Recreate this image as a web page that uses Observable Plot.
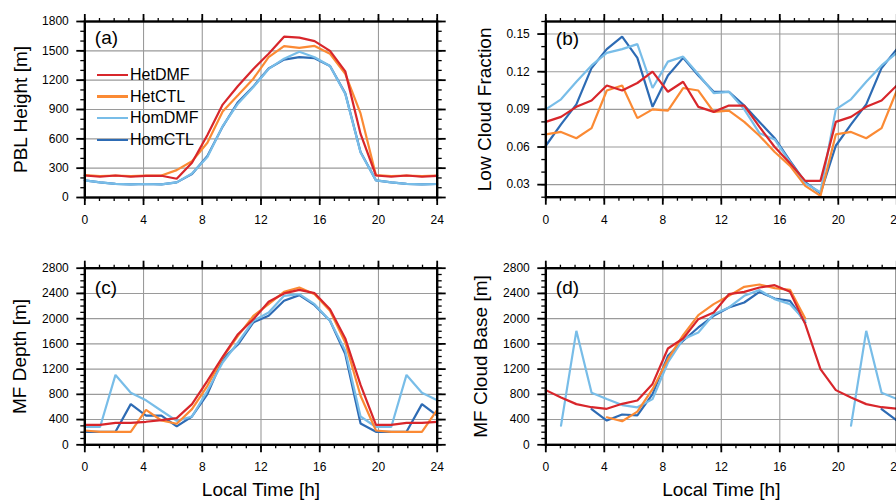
<!DOCTYPE html>
<html>
<head>
<meta charset="utf-8">
<script src="https://cdn.jsdelivr.net/npm/d3@7"></script>
<script src="https://cdn.jsdelivr.net/npm/@observablehq/plot@0.6"></script>
<style>
  html, body { margin: 0; padding: 0; background: #fff; }
  #fig { position: relative; width: 896px; height: 501px; overflow: hidden; background: #fff;
         font-family: "Liberation Sans", Arial, Helvetica, sans-serif; }
  #fig > div.panel { position: absolute; }
  #fig > div.panel svg { max-width: none !important; display: block; }
  #legend { position: absolute; left: 97px; top: 64px; font-size: 16px; color: #000; }
  #legend .row { position: relative; height: 21.7px; line-height: 21.7px; white-space: nowrap; }
  #legend .sw { display: inline-block; width: 31px; height: 2.5px; vertical-align: middle; margin-right: 2px; position: relative; top: -1px; }
</style>
</head>
<body>
<div id="fig"></div>
<script>
// ---------- data ----------
const seriesNames = ["HetDMF", "HetCTL", "HomDMF", "HomCTL"];
const seriesColors = ["#d8262b", "#fb8a34", "#78bde8", "#2d6bb4"];

// local time of each sample [h]
const hours = [0, 1.04, 2.09, 3.13, 4.17, 5.22, 6.26, 7.30, 8.35, 9.39, 10.43, 11.48,
               12.52, 13.57, 14.61, 15.65, 16.70, 17.74, 18.78, 19.83, 20.87, 21.91, 22.96, 24];

// (a) PBL height [m]
const pblHetDMF = [225, 212, 225, 212, 222, 222, 192, 355, 640, 950, 1140, 1315, 1470, 1645, 1635, 1600, 1500, 1290, 650, 225, 212, 225, 212, 222];
const pblHetCTL = [228, 220, 225, 218, 225, 225, 280, 370, 560, 880, 1045, 1215, 1435, 1548, 1530, 1550, 1470, 1265, 860, 228, 220, 225, 218, 225];
const pblHomDMF = [175, 155, 140, 135, 138, 135, 155, 245, 415, 730, 960, 1130, 1315, 1420, 1490, 1435, 1345, 1060, 460, 175, 155, 140, 135, 138];
const pblHomCTL = [175, 155, 140, 135, 138, 135, 155, 240, 425, 725, 975, 1135, 1320, 1410, 1435, 1425, 1345, 1065, 465, 175, 155, 140, 135, 138];

// (b) low cloud fraction
const lcfHetDMF = [0.080, 0.084, 0.092, 0.097, 0.109, 0.105, 0.111, 0.120, 0.104, 0.112, 0.092, 0.088, 0.093, 0.093, 0.076, 0.060, 0.047, 0.033, 0.033, 0.080, 0.084, 0.092, 0.097, 0.109];
const lcfHetCTL = [0.070, 0.072, 0.067, 0.075, 0.105, 0.109, 0.083, 0.090, 0.089, 0.107, 0.105, 0.088, 0.089, 0.080, 0.069, 0.056, 0.045, 0.029, 0.021, 0.070, 0.072, 0.067, 0.075, 0.105];
const lcfHomDMF = [0.090, 0.098, 0.112, 0.125, 0.135, 0.138, 0.142, 0.107, 0.128, 0.132, 0.118, 0.103, 0.104, 0.090, 0.071, 0.066, 0.048, 0.031, 0.024, 0.090, 0.098, 0.112, 0.125, 0.135];
const lcfHomCTL = [0.061, 0.078, 0.094, 0.123, 0.138, 0.148, 0.131, 0.092, 0.117, 0.131, 0.117, 0.104, 0.104, 0.093, 0.080, 0.067, 0.049, 0.032, 0.023, 0.061, 0.078, 0.094, 0.123, 0.138];

// (c) MF depth [m]
const mfdHetDMF = [317, 317, 349, 349, 365, 390, 423, 645, 1015, 1395, 1754, 1990, 2267, 2400, 2457, 2404, 2150, 1686, 950, 317, 317, 349, 349, 365];
const mfdHetCTL = [227, 206, 206, 206, 555, 385, 333, 565, 935, 1384, 1728, 2045, 2230, 2425, 2494, 2388, 2124, 1622, 777, 227, 206, 206, 206, 555];
const mfdHomDMF = [282, 282, 1108, 826, 705, 540, 380, 449, 856, 1305, 1622, 1966, 2098, 2362, 2388, 2230, 1966, 1490, 449, 282, 282, 1108, 826, 705];
const mfdHomCTL = [206, 206, 206, 645, 462, 462, 293, 449, 803, 1358, 1590, 1940, 2045, 2283, 2373, 2214, 1966, 1437, 338, 206, 206, 206, 645, 462];

// (d) MF cloud base [m]  (null = no value)
const mfbHetDMF = [867, 750, 645, 596, 571, 650, 702, 965, 1527, 1686, 1992, 2098, 2388, 2425, 2494, 2531, 2425, 1913, 1200, 867, 750, 645, 596, 571];
const mfbHetCTL = [null, null, null, null, 436, 374, 525, 882, 1358, 1738, 2055, 2230, 2362, 2505, 2541, 2484, 2457, 2003, null, null, null, null, null, 436];
const mfbHomDMF = [null, 304, 1807, 826, 727, 630, 594, 724, 1305, 1675, 1781, 2071, 2177, 2362, 2452, 2309, 2230, 1966, null, null, 304, 1807, 826, 727];
const mfbHomCTL = [null, null, null, 565, 385, 480, 465, 803, 1411, 1649, 1860, 2045, 2177, 2256, 2425, 2320, 2283, 1939, null, null, null, null, 565, 385];

// tick labels
const xTicks = [0, 4, 8, 12, 16, 20, 24];
const pblTicks = [0, 300, 600, 900, 1200, 1500, 1800];
const lcfTicks = [0.03, 0.06, 0.09, 0.12, 0.15];
const mfTicks = [0, 400, 800, 1200, 1600, 2000, 2400, 2800];

// ---------- helpers ----------
function toRows(byName) {
  // draw order bottom -> top: HomCTL, HomDMF, HetCTL, HetDMF
  const rows = [];
  for (const name of ["HomCTL", "HomDMF", "HetCTL", "HetDMF"]) {
    byName[name].forEach((v, i) => rows.push({t: hours[i], v: v == null ? NaN : v, s: name}));
  }
  return rows;
}

const FONT = '"Liberation Sans", Arial, Helvetica, sans-serif';

function panel(o) {
  const blank = () => "";
  const ax = {stroke: "black", strokeWidth: 1.8, label: null, fontSize: 12};
  const marks = [
    Plot.gridX(xTicks, {stroke: "#9a9a9a", strokeOpacity: 1, strokeWidth: 1.1}),
    Plot.gridY(o.yTicks, {stroke: "#9a9a9a", strokeOpacity: 1, strokeWidth: 1.1}),
    Plot.line(o.rows, {x: "t", y: "v", z: "s", stroke: "s", strokeWidth: 2.2, strokeLinejoin: "miter"}),
    Plot.frame({stroke: "black", strokeWidth: 2.4}),
    // x ticks
    Plot.axisX(xTicks, {...ax, anchor: "bottom", tickSize: 8, tickPadding: 10, tickFormat: d => String(d)}),
    Plot.axisX(o.xMinor, {...ax, anchor: "bottom", tickSize: 4, tickFormat: blank, strokeWidth: 1.3}),
    Plot.axisX(xTicks, {...ax, anchor: "top", tickSize: 8, tickFormat: blank}),
    Plot.axisX(o.xMinor, {...ax, anchor: "top", tickSize: 4, tickFormat: blank, strokeWidth: 1.3}),
    // y ticks
    Plot.axisY(o.yTicks, {...ax, anchor: "left", tickSize: 8, tickPadding: 8, tickFormat: o.yFormat}),
    Plot.axisY(o.yMinor, {...ax, anchor: "left", tickSize: 4, tickFormat: blank, strokeWidth: 1.3}),
    Plot.axisY(o.yTicks, {...ax, anchor: "right", tickSize: 8, tickFormat: blank}),
    Plot.axisY(o.yMinor, {...ax, anchor: "right", tickSize: 4, tickFormat: blank, strokeWidth: 1.3}),
    // panel tag
    Plot.text([o.tag], {frameAnchor: "top-left", dx: 10, dy: o.tagDy, textAnchor: "start", lineAnchor: "middle", fontSize: 19, fill: "black"}),
    // y title
    Plot.text([o.ylabel], {frameAnchor: "left", dx: o.ylabelDx, rotate: -90, textAnchor: "middle", lineAnchor: "middle", fontSize: 19, fill: "black"})
  ];
  if (o.xlabel) {
    marks.push(Plot.text([o.xlabel], {frameAnchor: "bottom", dy: 45.5, textAnchor: "middle", lineAnchor: "middle", fontSize: 19, fill: "black"}));
  }
  const svg = Plot.plot({
    width: o.width, height: o.height,
    marginLeft: o.ml, marginRight: o.mr, marginTop: o.mt, marginBottom: o.mb,
    style: {fontFamily: FONT, fontSize: "12px", background: "transparent", overflow: "visible", maxWidth: "none"},
    x: {domain: [0, 24], axis: null},
    y: {domain: o.yDomain, axis: null},
    color: {domain: seriesNames, range: seriesColors},
    marks
  });
  svg.style.maxWidth = "none";
  svg.style.width = o.width + "px";
  svg.style.height = o.height + "px";
  const wrap = document.createElement("div");
  wrap.className = "panel";
  wrap.style.left = o.left + "px";
  wrap.style.top = o.top + "px";
  wrap.style.width = o.width + "px";
  wrap.style.height = o.height + "px";
  wrap.appendChild(svg);
  document.getElementById("fig").appendChild(wrap);
}

const xMinor = d3.range(0, 25, 1);

panel({
  left: 0, top: 0, width: 460, height: 250, ml: 84.3, mr: 23.3, mt: 21, mb: 53,
  rows: toRows({HetDMF: pblHetDMF, HetCTL: pblHetCTL, HomDMF: pblHomDMF, HomCTL: pblHomCTL}),
  yDomain: [0, 1800], yTicks: pblTicks, yMinor: d3.range(0, 1801, 100), yFormat: d => String(d),
  xMinor, tag: "(a)", tagDy: 16.5, ylabel: "PBL Height [m]", ylabelDx: -64
});
panel({
  left: 460, top: 0, width: 460, height: 250, ml: 85.3, mr: 23.7, mt: 21, mb: 53.3,
  rows: toRows({HetDMF: lcfHetDMF, HetCTL: lcfHetCTL, HomDMF: lcfHomDMF, HomCTL: lcfHomCTL}),
  yDomain: [0.02, 0.16], yTicks: lcfTicks, yMinor: d3.range(2, 17).map(d => d / 100), yFormat: d3.format(".2f"),
  xMinor, tag: "(b)", tagDy: 17, ylabel: "Low Cloud Fraction", ylabelDx: -61
});
panel({
  left: 0, top: 250, width: 460, height: 251, ml: 84.3, mr: 23.3, mt: 17.7, mb: 56.7,
  rows: toRows({HetDMF: mfdHetDMF, HetCTL: mfdHetCTL, HomDMF: mfdHomDMF, HomCTL: mfdHomCTL}),
  yDomain: [0, 2800], yTicks: mfTicks, yMinor: d3.range(0, 2801, 100), yFormat: d => String(d),
  xMinor, tag: "(c)", tagDy: 20, ylabel: "MF Depth [m]", ylabelDx: -64.5, xlabel: "Local Time [h]"
});
panel({
  left: 460, top: 250, width: 460, height: 251, ml: 85.3, mr: 23.7, mt: 17.7, mb: 56.7,
  rows: toRows({HetDMF: mfbHetDMF, HetCTL: mfbHetCTL, HomDMF: mfbHomDMF, HomCTL: mfbHomCTL}),
  yDomain: [0, 2800], yTicks: mfTicks, yMinor: d3.range(0, 2801, 100), yFormat: d => String(d),
  xMinor, tag: "(d)", tagDy: 20, ylabel: "MF Cloud Base [m]", ylabelDx: -65, xlabel: "Local Time [h]"
});

// legend inside panel (a)
const legend = document.createElement("div");
legend.id = "legend";
seriesNames.forEach((name, i) => {
  const row = document.createElement("div");
  row.className = "row";
  const sw = document.createElement("span");
  sw.className = "sw";
  sw.style.background = seriesColors[i];
  row.appendChild(sw);
  row.appendChild(document.createTextNode(name));
  legend.appendChild(row);
});
document.getElementById("fig").appendChild(legend);
</script>
</body>
</html>
